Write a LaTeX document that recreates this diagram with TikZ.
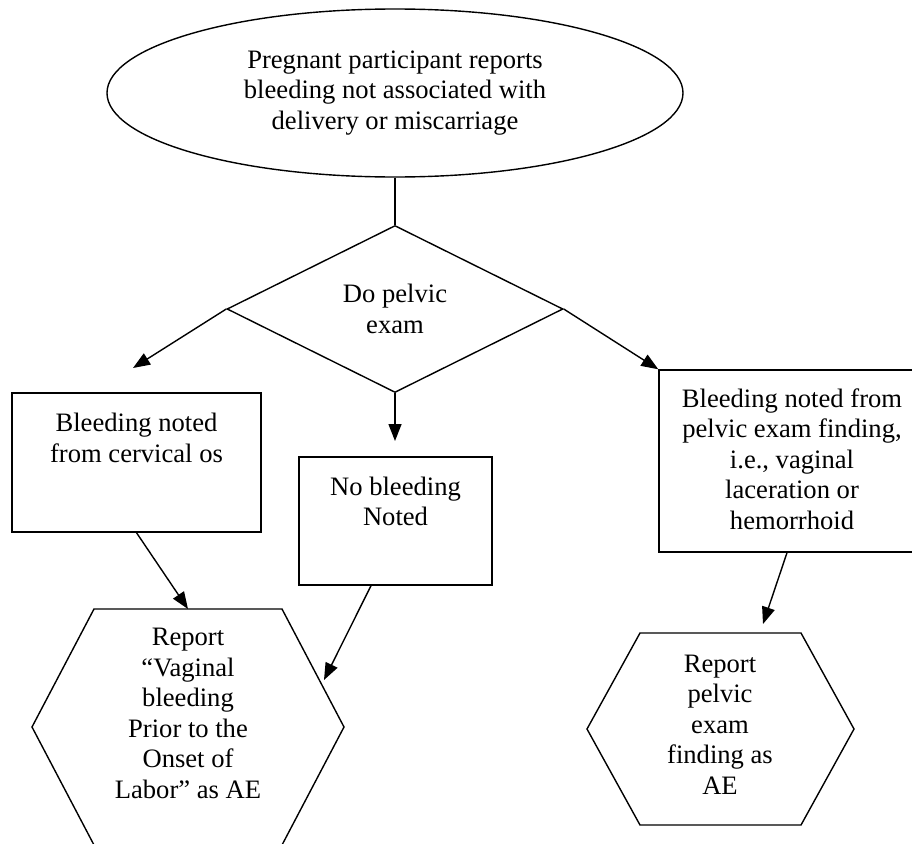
\documentclass[tikz,border=0pt]{standalone}
\usepackage{fontspec}
\setmainfont{Liberation Serif}
\usetikzlibrary{shapes.geometric,arrows.meta}
\begin{document}
\begin{tikzpicture}[x=1pt,y=-1pt,
  every node/.style={font=\fontsize{26.6}{30.5}\selectfont, align=center},
  shp/.style={draw, line width=1.4pt, inner sep=0pt},
  boxshape/.style={shp, rectangle},
  txt/.style={inner sep=0pt},
  con/.style={line width=1.4pt},
  arr/.style={con, -{Triangle[length=17pt,width=13pt]}}
]
\useasboundingbox (0,0) rectangle (912,843);
\fill[white] (0,0) rectangle (912,843);
\clip (0,0) rectangle (912,843);

% top ellipse
\node[shp, ellipse, minimum width=576pt, minimum height=168pt] (start) at (395,93)
  {Pregnant participant reports\\bleeding not associated with\\delivery or miscarriage};

% decision diamond
\node[shp, diamond, aspect=2, minimum width=336pt, minimum height=167pt] (exam) at (395,309)
  {Do pelvic\\exam};

% boxes
\node[boxshape, minimum width=249pt, minimum height=139pt] (lbox) at (136.5,462.5) {};
\node[txt] (lboxt) at (136.5,438) {Bleeding noted\\from cervical os};

\node[boxshape, minimum width=193pt, minimum height=128pt] (mbox) at (395.5,521) {};
\node[txt] (mboxt) at (395.5,501.5) {No bleeding\\Noted};

\node[boxshape, minimum width=266pt, minimum height=182pt] (rbox) at (792,461) {};
\node[txt] (rboxt) at (792,459) {Bleeding noted from\\pelvic exam finding,\\i.e., vaginal\\laceration or\\hemorrhoid};

% hexagons
\draw[con, line join=miter] (94,609) -- (282,609) -- (344,727) -- (282,845) -- (94,845) -- (32,727) -- cycle;
\node[txt] (lhext) at (188,713.5) {Report\\“Vaginal\\bleeding\\Prior to the\\Onset of\\Labor” as AE};

\draw[con, line join=miter] (640,633) -- (801,633) -- (854,729) -- (801,825) -- (640,825) -- (587,729) -- cycle;
\node[txt] (rhext) at (720,724.5) {Report\\pelvic\\exam\\finding as\\AE};

% arrow end points
\coordinate (lTip) at (133,368);
\coordinate (mTip) at (395,441);
\coordinate (lhexTop) at (188,609);
\coordinate (lhexSide) at (324,680);
\coordinate (rhexTop) at (763,624);

% connectors
\draw[con] (start.south) -- (exam.north);
\draw[arr] (exam.west) -- (lTip);
\draw[arr] (exam.south) -- (mTip);
\draw[arr] (exam.east) -- (rbox.north west);
\draw[arr] (lbox.south) -- (lhexTop);
\draw[arr] ([xshift=-24.5pt]mbox.south) -- (lhexSide);
\draw[arr] ([xshift=-5pt]rbox.south) -- (rhexTop);
\end{tikzpicture}
\end{document}
